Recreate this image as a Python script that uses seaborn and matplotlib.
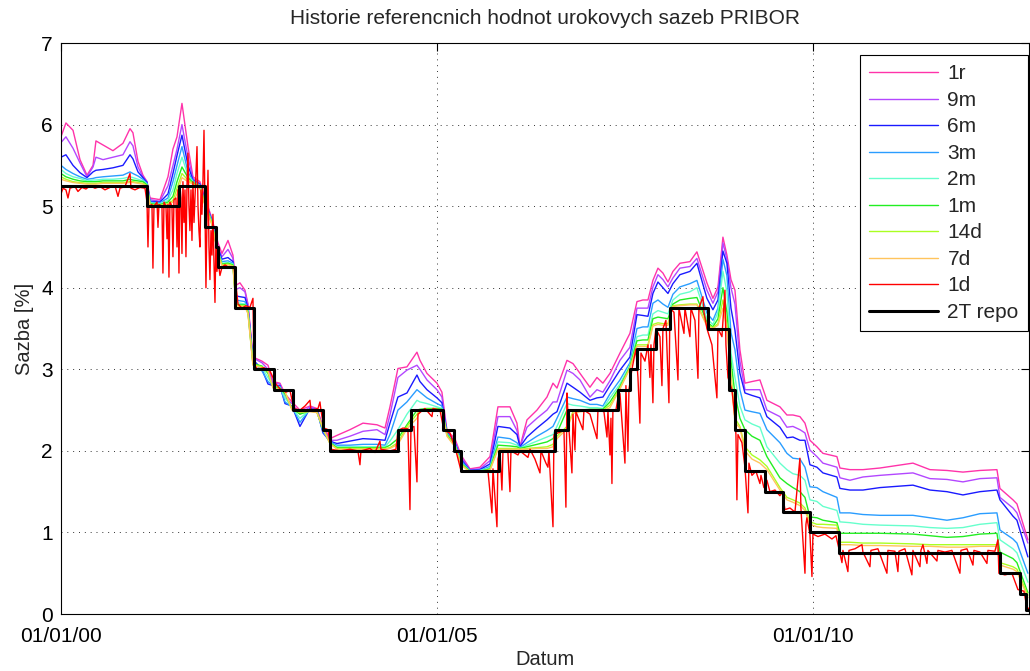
import numpy as np
import pandas as pd
import matplotlib
matplotlib.use('Agg')
import matplotlib.pyplot as plt
import matplotlib.dates as mdates
import seaborn as sns

# sample dates (decimal years) shared by the smooth tenor curves
grid_years = [
    2000.000, 2000.066, 2000.160, 2000.253, 2000.346, 2000.426, 2000.465, 2000.559, 2000.691, 2000.824,
    2000.918, 2000.957, 2001.024, 2001.090, 2001.144, 2001.184, 2001.316, 2001.423, 2001.489, 2001.543,
    2001.609, 2001.689, 2001.755, 2001.848, 2001.915, 2002.008, 2002.088, 2002.141, 2002.221, 2002.287,
    2002.327, 2002.380, 2002.447, 2002.487, 2002.553, 2002.673, 2002.753, 2002.819, 2002.912, 2002.979,
    2003.072, 2003.178, 2003.311, 2003.404, 2003.484, 2003.577, 2003.670, 2003.843, 2004.016, 2004.202,
    2004.309, 2004.375, 2004.481, 2004.601, 2004.734, 2004.774, 2004.867, 2005.000, 2005.066, 2005.133,
    2005.239, 2005.319, 2005.439, 2005.572, 2005.705, 2005.811, 2005.971, 2006.064, 2006.104, 2006.197,
    2006.330, 2006.463, 2006.543, 2006.596, 2006.729, 2006.809, 2006.902, 2007.035, 2007.128, 2007.207,
    2007.301, 2007.434, 2007.566, 2007.660, 2007.739, 2007.806, 2007.872, 2007.939, 2008.005, 2008.072,
    2008.138, 2008.231, 2008.364, 2008.457, 2008.590, 2008.670, 2008.737, 2008.803, 2008.856, 2008.910,
    2008.963, 2009.029, 2009.096, 2009.189, 2009.295, 2009.388, 2009.561, 2009.654, 2009.734, 2009.827,
    2009.894, 2009.960, 2010.053, 2010.133, 2010.319, 2010.359, 2010.492, 2010.665, 2010.891, 2011.330,
    2011.556, 2011.782, 2011.995, 2012.221, 2012.447, 2012.487, 2012.660, 2012.713, 2012.859,
]

rate_1r = [
    5.85, 6.02, 5.93, 5.57, 5.38, 5.50, 5.80, 5.75, 5.68, 5.77,
    5.95, 5.90, 5.55, 5.38, 5.30, 5.10, 5.08, 5.36, 5.70, 5.85,
    6.26, 5.73, 5.36, 5.30, 5.10, 4.85, 4.55, 4.42, 4.58, 4.40,
    4.03, 4.06, 3.97, 3.80, 3.15, 3.10, 3.05, 2.85, 2.83, 2.70,
    2.60, 2.50, 2.55, 2.52, 2.30, 2.15, 2.19, 2.26, 2.34, 2.32,
    2.28, 2.54, 3.01, 3.03, 3.21, 3.11, 2.95, 2.83, 2.72, 2.25,
    2.15, 1.95, 1.78, 1.80, 1.93, 2.54, 2.54, 2.34, 2.05, 2.38,
    2.50, 2.66, 2.83, 2.77, 3.11, 3.07, 2.95, 2.78, 2.90, 2.83,
    2.95, 3.20, 3.44, 3.83, 3.85, 3.85, 4.09, 4.24, 4.18, 4.07,
    4.20, 4.30, 4.32, 4.44, 4.06, 3.87, 4.01, 4.62, 4.40, 4.10,
    3.97, 3.24, 2.83, 2.85, 2.87, 2.62, 2.54, 2.44, 2.44, 2.42,
    2.34, 2.13, 2.05, 1.97, 1.93, 1.79, 1.77, 1.77, 1.79, 1.85,
    1.77, 1.76, 1.74, 1.76, 1.77, 1.54, 1.40, 1.35, 0.91,
]
rate_9m = [
    5.78, 5.85, 5.71, 5.53, 5.36, 5.48, 5.60, 5.57, 5.60, 5.63,
    5.79, 5.74, 5.48, 5.36, 5.30, 5.08, 5.06, 5.25, 5.50, 5.70,
    6.00, 5.60, 5.34, 5.28, 5.08, 4.83, 4.50, 4.38, 4.47, 4.36,
    3.98, 4.00, 3.95, 3.78, 3.14, 3.08, 3.00, 2.83, 2.82, 2.65,
    2.58, 2.45, 2.54, 2.51, 2.28, 2.13, 2.13, 2.18, 2.24, 2.26,
    2.20, 2.44, 2.90, 2.99, 3.05, 3.00, 2.87, 2.75, 2.66, 2.24,
    2.12, 1.93, 1.77, 1.78, 1.88, 2.42, 2.42, 2.25, 2.05, 2.29,
    2.40, 2.50, 2.60, 2.60, 2.99, 2.95, 2.87, 2.66, 2.75, 2.72,
    2.86, 3.11, 3.27, 3.75, 3.75, 3.75, 4.01, 4.16, 4.10, 4.01,
    4.12, 4.24, 4.26, 4.36, 3.97, 3.81, 3.95, 4.55, 4.35, 4.00,
    3.80, 3.10, 2.75, 2.75, 2.75, 2.50, 2.42, 2.29, 2.30, 2.26,
    2.22, 2.01, 1.93, 1.85, 1.80, 1.67, 1.64, 1.68, 1.70, 1.73,
    1.66, 1.65, 1.62, 1.66, 1.67, 1.43, 1.30, 1.24, 0.87,
]
rate_6m = [
    5.60, 5.63, 5.50, 5.41, 5.35, 5.42, 5.44, 5.45, 5.47, 5.50,
    5.63, 5.58, 5.42, 5.35, 5.29, 5.06, 5.05, 5.15, 5.40, 5.62,
    5.87, 5.50, 5.32, 5.27, 5.06, 4.82, 4.48, 4.35, 4.37, 4.32,
    3.90, 3.89, 3.88, 3.75, 3.12, 3.00, 2.82, 2.80, 2.80, 2.58,
    2.55, 2.30, 2.52, 2.50, 2.22, 2.12, 2.09, 2.12, 2.15, 2.14,
    2.13, 2.34, 2.66, 2.71, 2.93, 2.85, 2.75, 2.65, 2.59, 2.23,
    2.10, 1.90, 1.76, 1.77, 1.84, 2.30, 2.28, 2.20, 2.05, 2.17,
    2.28, 2.38, 2.45, 2.48, 2.83, 2.78, 2.72, 2.62, 2.65, 2.66,
    2.80, 2.99, 3.15, 3.67, 3.66, 3.65, 3.93, 4.07, 4.00, 3.93,
    4.05, 4.16, 4.20, 4.30, 3.87, 3.73, 3.85, 4.45, 4.30, 3.75,
    3.48, 2.95, 2.71, 2.68, 2.65, 2.42, 2.29, 2.16, 2.17, 2.13,
    2.13, 1.83, 1.80, 1.73, 1.68, 1.54, 1.52, 1.52, 1.55, 1.58,
    1.52, 1.50, 1.46, 1.50, 1.52, 1.40, 1.20, 1.15, 0.70,
]
rate_3m = [
    5.50, 5.45, 5.40, 5.36, 5.33, 5.34, 5.35, 5.36, 5.37, 5.38,
    5.42, 5.40, 5.37, 5.33, 5.28, 5.05, 5.04, 5.10, 5.30, 5.50,
    5.73, 5.42, 5.31, 5.26, 5.05, 4.81, 4.45, 4.32, 4.33, 4.30,
    3.85, 3.84, 3.83, 3.73, 3.10, 2.98, 2.85, 2.80, 2.79, 2.60,
    2.54, 2.35, 2.51, 2.49, 2.24, 2.11, 2.07, 2.07, 2.08, 2.08,
    2.07, 2.20, 2.50, 2.60, 2.75, 2.72, 2.65, 2.58, 2.55, 2.22,
    2.09, 1.88, 1.76, 1.76, 1.81, 2.17, 2.15, 2.10, 2.04, 2.10,
    2.18, 2.25, 2.30, 2.40, 2.66, 2.64, 2.62, 2.57, 2.57, 2.55,
    2.70, 2.87, 3.08, 3.50, 3.52, 3.52, 3.81, 3.85, 3.80, 3.76,
    3.92, 4.01, 4.05, 4.09, 3.69, 3.60, 3.75, 4.35, 4.15, 3.45,
    3.24, 2.75, 2.50, 2.48, 2.46, 2.26, 2.10, 1.97, 1.91, 1.90,
    1.80, 1.56, 1.55, 1.50, 1.43, 1.24, 1.24, 1.22, 1.21, 1.21,
    1.18, 1.15, 1.18, 1.23, 1.24, 1.03, 0.92, 0.87, 0.50,
]
rate_2m = [
    5.45, 5.40, 5.36, 5.34, 5.31, 5.32, 5.32, 5.33, 5.33, 5.34,
    5.36, 5.35, 5.33, 5.31, 5.27, 5.04, 5.03, 5.07, 5.20, 5.40,
    5.60, 5.38, 5.30, 5.25, 5.04, 4.80, 4.44, 4.30, 4.31, 4.29,
    3.82, 3.81, 3.80, 3.72, 3.08, 3.02, 2.90, 2.80, 2.78, 2.65,
    2.53, 2.40, 2.50, 2.48, 2.26, 2.10, 2.05, 2.05, 2.05, 2.05,
    2.05, 2.12, 2.26, 2.45, 2.62, 2.60, 2.58, 2.54, 2.52, 2.21,
    2.08, 1.86, 1.75, 1.76, 1.79, 2.11, 2.10, 2.07, 2.03, 2.07,
    2.12, 2.17, 2.20, 2.30, 2.58, 2.56, 2.55, 2.53, 2.53, 2.52,
    2.65, 2.82, 3.05, 3.40, 3.42, 3.42, 3.68, 3.72, 3.70, 3.68,
    3.85, 3.92, 3.95, 4.00, 3.62, 3.55, 3.70, 4.20, 3.95, 3.20,
    2.90, 2.55, 2.38, 2.33, 2.29, 2.05, 1.85, 1.77, 1.72, 1.70,
    1.64, 1.40, 1.38, 1.32, 1.27, 1.13, 1.12, 1.10, 1.09, 1.08,
    1.06, 1.05, 1.06, 1.10, 1.12, 0.91, 0.80, 0.75, 0.39,
]
rate_1m = [
    5.40, 5.36, 5.33, 5.31, 5.30, 5.30, 5.30, 5.31, 5.31, 5.31,
    5.33, 5.32, 5.31, 5.30, 5.26, 5.03, 5.02, 5.05, 5.12, 5.30,
    5.48, 5.35, 5.29, 5.24, 5.03, 4.79, 4.43, 4.29, 4.30, 4.28,
    3.80, 3.79, 3.79, 3.70, 3.07, 3.04, 2.95, 2.79, 2.77, 2.70,
    2.52, 2.45, 2.49, 2.48, 2.27, 2.10, 2.04, 2.04, 2.04, 2.04,
    2.04, 2.07, 2.15, 2.32, 2.50, 2.51, 2.52, 2.52, 2.51, 2.20,
    2.07, 1.85, 1.75, 1.75, 1.78, 2.07, 2.06, 2.05, 2.03, 2.05,
    2.08, 2.11, 2.15, 2.22, 2.50, 2.50, 2.50, 2.51, 2.51, 2.51,
    2.60, 2.79, 3.03, 3.35, 3.36, 3.36, 3.62, 3.64, 3.63, 3.62,
    3.80, 3.85, 3.87, 3.88, 3.58, 3.52, 3.62, 4.00, 3.70, 3.10,
    2.70, 2.40, 2.26, 2.18, 2.13, 1.93, 1.67, 1.60, 1.55, 1.50,
    1.43, 1.19, 1.18, 1.15, 1.12, 0.99, 0.99, 0.99, 0.99, 0.98,
    0.96, 0.94, 0.95, 0.98, 0.99, 0.76, 0.68, 0.63, 0.26,
]
rate_14d = [
    5.36, 5.33, 5.30, 5.29, 5.28, 5.28, 5.28, 5.29, 5.29, 5.29,
    5.30, 5.30, 5.29, 5.28, 5.25, 5.02, 5.01, 5.03, 5.07, 5.22,
    5.40, 5.32, 5.28, 5.23, 5.02, 4.78, 4.42, 4.28, 4.29, 4.27,
    3.79, 3.78, 3.78, 3.69, 3.06, 3.03, 2.97, 2.78, 2.76, 2.72,
    2.51, 2.47, 2.49, 2.47, 2.28, 2.09, 2.03, 2.03, 2.03, 2.03,
    2.03, 2.04, 2.10, 2.30, 2.45, 2.50, 2.51, 2.51, 2.50, 2.19,
    2.06, 1.84, 1.74, 1.75, 1.77, 2.03, 2.03, 2.03, 2.02, 2.03,
    2.04, 2.05, 2.08, 2.18, 2.30, 2.48, 2.49, 2.50, 2.50, 2.50,
    2.56, 2.77, 3.02, 3.30, 3.30, 3.30, 3.55, 3.57, 3.56, 3.56,
    3.78, 3.79, 3.80, 3.80, 3.55, 3.51, 3.56, 3.85, 3.55, 2.95,
    2.40, 2.30, 2.05, 1.95, 1.89, 1.81, 1.55, 1.43, 1.40, 1.36,
    1.30, 1.13, 1.10, 1.10, 1.09, 0.88, 0.88, 0.87, 0.87, 0.86,
    0.85, 0.85, 0.85, 0.85, 0.85, 0.63, 0.58, 0.55, 0.23,
]
rate_7d = [
    5.33, 5.31, 5.29, 5.28, 5.27, 5.27, 5.27, 5.28, 5.28, 5.28,
    5.29, 5.29, 5.28, 5.27, 5.24, 5.01, 5.00, 5.02, 5.05, 5.15,
    5.35, 5.30, 5.27, 5.22, 5.01, 4.77, 4.41, 4.27, 4.28, 4.26,
    3.78, 3.77, 3.77, 3.68, 3.05, 3.02, 2.98, 2.77, 2.75, 2.73,
    2.50, 2.48, 2.48, 2.47, 2.28, 2.09, 2.02, 2.02, 2.02, 2.02,
    2.02, 2.03, 2.08, 2.27, 2.40, 2.49, 2.50, 2.50, 2.49, 2.18,
    2.05, 1.83, 1.74, 1.74, 1.76, 2.02, 2.02, 2.02, 2.02, 2.02,
    2.03, 2.03, 2.05, 2.15, 2.27, 2.46, 2.48, 2.49, 2.49, 2.49,
    2.53, 2.76, 3.01, 3.28, 3.28, 3.28, 3.53, 3.55, 3.54, 3.54,
    3.77, 3.78, 3.79, 3.79, 3.53, 3.50, 3.54, 3.75, 3.50, 2.90,
    2.35, 2.28, 2.00, 1.90, 1.85, 1.77, 1.52, 1.40, 1.37, 1.33,
    1.27, 1.10, 1.07, 1.06, 1.05, 0.85, 0.85, 0.84, 0.84, 0.83,
    0.83, 0.82, 0.82, 0.83, 0.83, 0.60, 0.55, 0.52, 0.20,
]

# overnight rate is spiky, so it has its own (decimal year, rate) samples
rate_1d = [
    (2000.000, 5.15), (2000.027, 5.22), (2000.066, 5.20), (2000.093, 5.10), (2000.120, 5.22),
    (2000.186, 5.24), (2000.226, 5.18), (2000.279, 5.23), (2000.332, 5.21), (2000.386, 5.25),
    (2000.452, 5.22), (2000.519, 5.24), (2000.585, 5.20), (2000.652, 5.23), (2000.718, 5.25),
    (2000.758, 5.12), (2000.785, 5.22), (2000.851, 5.24), (2000.918, 5.40), (2000.931, 5.22),
    (2000.984, 5.20), (2001.051, 5.23), (2001.117, 5.22), (2001.144, 5.05), (2001.157, 4.50),
    (2001.170, 5.00), (2001.210, 5.02), (2001.223, 4.24), (2001.237, 5.00), (2001.277, 5.05),
    (2001.290, 4.74), (2001.303, 5.02), (2001.343, 5.00), (2001.356, 4.18), (2001.370, 5.05),
    (2001.396, 5.00), (2001.410, 4.60), (2001.423, 5.02), (2001.436, 4.13), (2001.449, 5.05),
    (2001.476, 5.00), (2001.489, 4.38), (2001.503, 5.08), (2001.529, 5.10), (2001.543, 4.50),
    (2001.556, 5.20), (2001.569, 4.18), (2001.582, 5.25), (2001.596, 5.10), (2001.609, 4.42),
    (2001.622, 5.30), (2001.636, 4.80), (2001.649, 5.20), (2001.662, 4.38), (2001.676, 5.25),
    (2001.689, 5.65), (2001.702, 5.00), (2001.715, 4.70), (2001.729, 5.20), (2001.742, 4.58),
    (2001.755, 5.30), (2001.769, 4.80), (2001.782, 5.10), (2001.809, 5.73), (2001.822, 5.00),
    (2001.835, 4.70), (2001.848, 4.50), (2001.862, 5.20), (2001.875, 4.90), (2001.888, 5.30),
    (2001.902, 5.93), (2001.915, 5.00), (2001.928, 4.00), (2001.941, 4.80), (2001.955, 5.44),
    (2001.968, 4.50), (2001.981, 4.10), (2001.995, 4.70), (2002.008, 4.40), (2002.021, 4.90),
    (2002.035, 4.30), (2002.048, 3.82), (2002.061, 4.60), (2002.074, 4.20), (2002.088, 4.35),
    (2002.114, 4.15), (2002.141, 4.25), (2002.181, 4.28), (2002.247, 4.24), (2002.301, 4.26),
    (2002.354, 3.80), (2002.407, 3.75), (2002.460, 3.78), (2002.513, 3.76), (2002.553, 3.87),
    (2002.566, 3.05), (2002.620, 3.00), (2002.699, 3.02), (2002.779, 2.98), (2002.859, 2.82),
    (2002.912, 2.76), (2002.992, 2.72), (2003.045, 2.74), (2003.098, 2.52), (2003.178, 2.50),
    (2003.245, 2.55), (2003.311, 2.62), (2003.324, 2.50), (2003.418, 2.52), (2003.444, 2.60),
    (2003.457, 2.50), (2003.497, 2.28), (2003.551, 2.26), (2003.590, 2.02), (2003.710, 2.00),
    (2003.843, 2.02), (2003.949, 2.00), (2003.976, 1.83), (2003.989, 2.00), (2004.109, 2.03),
    (2004.176, 1.98), (2004.242, 2.12), (2004.255, 2.02), (2004.375, 2.00), (2004.455, 2.02),
    (2004.481, 2.25), (2004.548, 2.28), (2004.614, 2.27), (2004.641, 1.28), (2004.654, 2.28),
    (2004.694, 2.30), (2004.734, 1.62), (2004.747, 2.45), (2004.840, 2.52), (2004.934, 2.42),
    (2004.947, 2.52), (2005.040, 2.50), (2005.093, 2.25), (2005.173, 2.22), (2005.253, 2.00),
    (2005.319, 1.76), (2005.439, 1.74), (2005.572, 1.75), (2005.678, 1.76), (2005.731, 1.24),
    (2005.745, 1.78), (2005.798, 1.07), (2005.811, 1.90), (2005.838, 2.00), (2005.864, 1.52),
    (2005.878, 2.00), (2005.944, 1.98), (2005.971, 1.50), (2005.984, 2.00), (2006.077, 1.95),
    (2006.104, 2.00), (2006.210, 1.92), (2006.237, 2.02), (2006.303, 1.90), (2006.370, 1.73),
    (2006.383, 2.00), (2006.449, 1.85), (2006.476, 1.80), (2006.489, 2.00), (2006.543, 1.07),
    (2006.556, 2.20), (2006.636, 2.23), (2006.689, 2.25), (2006.715, 1.31), (2006.729, 2.71),
    (2006.742, 2.45), (2006.795, 1.73), (2006.809, 2.45), (2006.835, 2.01), (2006.848, 2.48),
    (2006.941, 2.26), (2006.955, 2.50), (2007.035, 2.45), (2007.128, 2.15), (2007.141, 2.50),
    (2007.221, 2.48), (2007.261, 2.17), (2007.274, 2.50), (2007.301, 1.95), (2007.314, 2.40),
    (2007.327, 1.60), (2007.340, 2.50), (2007.380, 2.50), (2007.420, 2.72), (2007.434, 2.70),
    (2007.500, 1.85), (2007.513, 2.80), (2007.540, 2.00), (2007.553, 2.75), (2007.593, 3.00),
    (2007.646, 3.25), (2007.673, 2.90), (2007.699, 2.34), (2007.713, 3.20), (2007.766, 3.10),
    (2007.806, 3.30), (2007.832, 2.90), (2007.846, 3.30), (2007.872, 2.59), (2007.886, 3.30),
    (2007.912, 3.50), (2007.965, 3.40), (2007.992, 2.80), (2008.005, 3.50), (2008.045, 3.60),
    (2008.085, 2.59), (2008.098, 3.75), (2008.152, 3.70), (2008.205, 2.87), (2008.218, 3.75),
    (2008.285, 3.44), (2008.298, 3.75), (2008.364, 3.40), (2008.378, 3.75), (2008.431, 3.60),
    (2008.471, 2.89), (2008.484, 3.75), (2008.537, 3.89), (2008.551, 3.70), (2008.590, 3.50),
    (2008.657, 3.30), (2008.723, 2.65), (2008.737, 3.50), (2008.790, 3.40), (2008.830, 3.97),
    (2008.843, 3.30), (2008.870, 2.90), (2008.923, 2.75), (2008.963, 2.40), (2008.976, 2.20),
    (2008.989, 1.40), (2009.003, 2.20), (2009.056, 2.10), (2009.096, 1.80), (2009.136, 1.24),
    (2009.149, 1.85), (2009.189, 1.70), (2009.242, 1.75), (2009.295, 1.60), (2009.309, 1.70),
    (2009.348, 1.55), (2009.388, 1.64), (2009.428, 1.50), (2009.495, 1.52), (2009.561, 1.45),
    (2009.588, 1.50), (2009.628, 1.28), (2009.694, 1.30), (2009.761, 1.25), (2009.827, 1.91),
    (2009.840, 1.30), (2009.894, 0.50), (2009.907, 1.10), (2009.920, 1.18), (2009.960, 0.98),
    (2009.987, 0.46), (2010.000, 0.98), (2010.067, 0.95), (2010.160, 0.98), (2010.253, 0.92),
    (2010.306, 0.96), (2010.346, 0.80), (2010.386, 0.63), (2010.399, 0.78), (2010.465, 0.52),
    (2010.479, 0.78), (2010.559, 0.80), (2010.652, 0.85), (2010.665, 0.76), (2010.758, 0.58),
    (2010.771, 0.78), (2010.864, 0.80), (2010.984, 0.50), (2010.997, 0.78), (2011.090, 0.77),
    (2011.130, 0.52), (2011.144, 0.77), (2011.223, 0.80), (2011.316, 0.48), (2011.330, 0.78),
    (2011.423, 0.58), (2011.436, 0.78), (2011.463, 0.85), (2011.516, 0.62), (2011.529, 0.78),
    (2011.649, 0.65), (2011.662, 0.78), (2011.755, 0.76), (2011.848, 0.78), (2011.955, 0.50),
    (2011.968, 0.78), (2012.048, 0.80), (2012.128, 0.60), (2012.141, 0.78), (2012.221, 0.76),
    (2012.314, 0.62), (2012.327, 0.78), (2012.420, 0.77), (2012.460, 0.91), (2012.473, 0.50),
    (2012.553, 0.48), (2012.646, 0.50), (2012.726, 0.30), (2012.806, 0.28), (2012.846, 0.08),
    (2012.886, 0.06),
]

# CNB 2T repo rate changes
repo_dates = [
    '2000-01-01', '2001-02-23', '2001-07-27', '2001-11-30', '2002-01-25', '2002-02-01',
    '2002-04-26', '2002-07-26', '2002-11-01', '2003-01-31', '2003-06-27', '2003-08-01',
    '2004-06-25', '2004-08-27', '2005-01-28', '2005-03-25', '2005-04-29', '2005-10-31',
    '2006-07-28', '2006-09-29', '2007-06-01', '2007-07-27', '2007-08-31', '2007-11-30',
    '2008-02-08', '2008-08-07', '2008-11-17', '2008-12-18', '2009-02-06', '2009-05-11',
    '2009-08-07', '2009-12-17', '2010-05-07', '2012-06-28', '2012-10-01', '2012-11-02',
    '2012-11-20',
]
repo_rates = [
    5.25, 5.00, 5.25, 4.75, 4.50, 4.25,
    3.75, 3.00, 2.75, 2.50, 2.25, 2.00,
    2.25, 2.50, 2.25, 2.00, 1.75, 2.00,
    2.25, 2.50, 2.75, 3.00, 3.25, 3.50,
    3.75, 3.50, 2.75, 2.25, 1.75, 1.50,
    1.25, 1.00, 0.75, 0.50, 0.25, 0.05,
    0.05,
]

tenors = ['1r', '9m', '6m', '3m', '2m', '1m', '14d', '7d', '1d']
colors = ['#ff33aa', '#b347ff', '#1a1aff', '#2a9dff', '#66ffcc',
          '#22ee22', '#aaff22', '#ffc45c', '#ff0000']


def to_date(years):
    years = np.asarray(years, dtype=float)
    return pd.to_datetime('2000-01-01') + pd.to_timedelta((years - 2000) * 365.25, unit='D')


frames = []
for name, vals in zip(tenors[:-1], [rate_1r, rate_9m, rate_6m, rate_3m,
                                    rate_2m, rate_1m, rate_14d, rate_7d]):
    frames.append(pd.DataFrame({'date': to_date(grid_years), 'rate': vals, 'tenor': name}))
d1 = np.array(rate_1d)
frames.append(pd.DataFrame({'date': to_date(d1[:, 0]), 'rate': d1[:, 1], 'tenor': '1d'}))
rates = pd.concat(frames, ignore_index=True)
repo = pd.DataFrame({'date': pd.to_datetime(repo_dates), 'rate': repo_rates})

sns.set_style('white')
plt.rcParams['font.family'] = ['Liberation Sans', 'DejaVu Sans']

fig = plt.figure(figsize=(10.3, 6.71), dpi=100)
ax = fig.add_axes([0.0592, 0.0849, 0.9398, 0.851])

sns.lineplot(data=rates, x='date', y='rate', hue='tenor', hue_order=tenors,
             palette=colors, estimator=None, linewidth=1.0, ax=ax, legend=False)
sns.lineplot(data=repo, x='date', y='rate', color='black', linewidth=2.2,
             drawstyle='steps-post', estimator=None, ax=ax, legend=False)

ax.set_xlim(to_date([2000.0])[0], to_date([2012.873])[0])
ax.set_ylim(0, 7)
ax.set_yticks(range(8))
ax.set_xticks(pd.to_datetime(['2000-01-01', '2005-01-01', '2010-01-01']))
ax.xaxis.set_major_formatter(mdates.DateFormatter('%d/%m/%y'))

ax.set_axisbelow(True)
ax.grid(True, linestyle=(0, (1, 5)), color='#333333', linewidth=0.7)
for sp in ax.spines.values():
    sp.set_visible(True)
    sp.set_color('black')
    sp.set_linewidth(0.8)
ax.tick_params(direction='in', length=6, width=0.8, top=True, right=True,
               labelsize=15, pad=6, colors='black')
ax.tick_params(axis='x', pad=9)

ax.set_title('Historie referencnich hodnot urokovych sazeb PRIBOR', fontsize=15, pad=14)
ax.set_xlabel('Datum', fontsize=14.5, labelpad=3)
ax.set_ylabel('Sazba [%]', fontsize=14.5, labelpad=5)

handles = ax.get_lines()[:10]
leg = ax.legend(handles, tenors + ['2T repo'], loc='upper right',
                bbox_to_anchor=(0.999, 0.979), borderaxespad=0, fontsize=15,
                frameon=True, fancybox=False, edgecolor='black', framealpha=1,
                handlelength=3.3, handletextpad=0.45, labelspacing=0.36, borderpad=0.45)
leg.get_frame().set_linewidth(0.8)

fig.savefig('out.png', dpi=100)
